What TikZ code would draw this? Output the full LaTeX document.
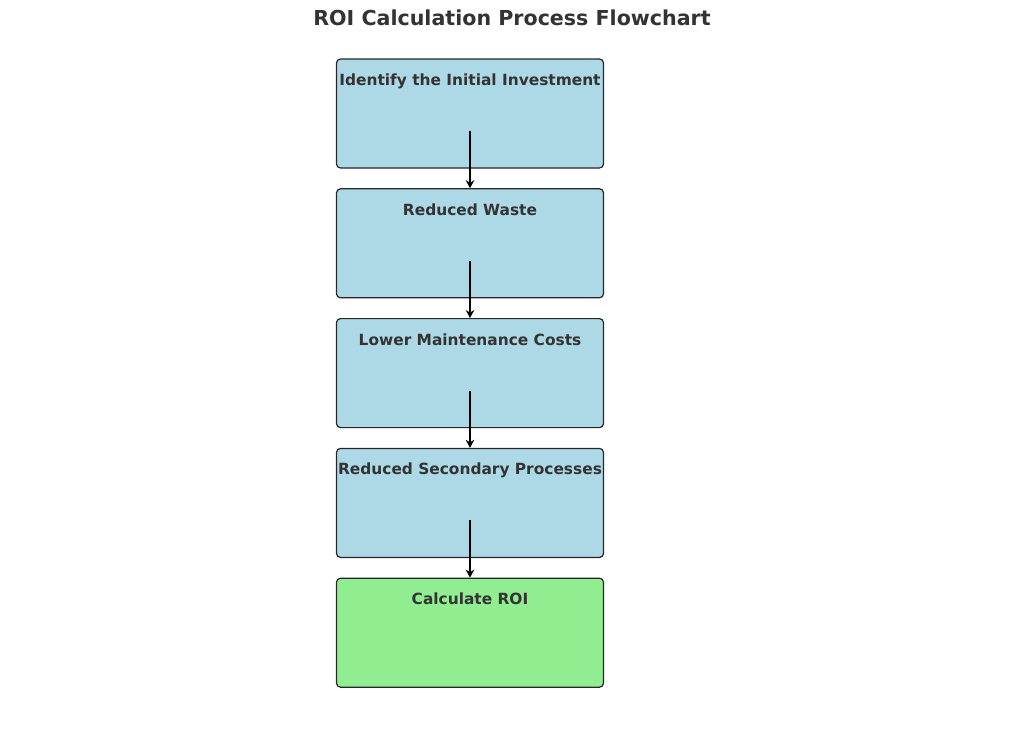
\documentclass[tikz,border=0pt]{standalone}
\usepackage{fontspec}
\setmainfont{DejaVu Sans}
\usepackage{tikz}
\usetikzlibrary{arrows.meta,positioning}

\definecolor{stepblue}{HTML}{ADD8E6}
\definecolor{stepgreen}{HTML}{90EE90}
\definecolor{textgray}{HTML}{333333}

\tikzset{
	stepbox/.style={draw=black!85, line width=1.2pt, rounded corners=4pt, fill=stepblue, minimum width=267pt, minimum height=109pt, inner sep=0pt},
	steptext/.style={anchor=base, inner sep=0pt, text=textgray, font=\fontsize{15.4}{18}\selectfont\bfseries},
	flow/.style={->, >={Stealth[length=8pt,width=8.5pt]}, line width=2pt}
}

\begin{document}
\begin{tikzpicture}[node distance=19.6pt]
	\useasboundingbox (0pt,0pt) rectangle (1024pt,-755pt);
	\node[anchor=base, text=textgray, font=\fontsize{20.6}{24}\selectfont\bfseries] (TITLE) at (512pt,-25pt) {ROI Calculation Process Flowchart};

	\node[stepbox]               (IDENT)  at (470pt,-113.5pt) {};
	\node[stepbox] [below=of IDENT]      (WASTE)  {};
	\node[stepbox] [below=of WASTE]      (MAINT)  {};
	\node[stepbox] [below=of MAINT]      (SECOND) {};
	\node[stepbox, fill=stepgreen] [below=of SECOND] (ROI) {};

	% labels near the top of each box
	\node[steptext] (IDENT-t)  at ([yshift=-27pt]IDENT.north)  {Identify the Initial Investment};
	\node[steptext] (WASTE-t)  at ([yshift=-27pt]WASTE.north)  {Reduced Waste};
	\node[steptext] (MAINT-t)  at ([yshift=-27pt]MAINT.north)  {Lower Maintenance Costs};
	\node[steptext] (SECOND-t) at ([yshift=-27pt]SECOND.north) {Reduced Secondary Processes};
	\node[steptext] (ROI-t)    at ([yshift=-27pt]ROI.north)    {Calculate ROI};

	\foreach \n in {IDENT,WASTE,MAINT,SECOND}
		\coordinate (\n-out) at ([yshift=-17.5pt]\n.center);

	\path
		(IDENT-out)  edge[flow] (WASTE.north)
		(WASTE-out)  edge[flow] (MAINT.north)
		(MAINT-out)  edge[flow] (SECOND.north)
		(SECOND-out) edge[flow] (ROI.north);
\end{tikzpicture}
\end{document}
